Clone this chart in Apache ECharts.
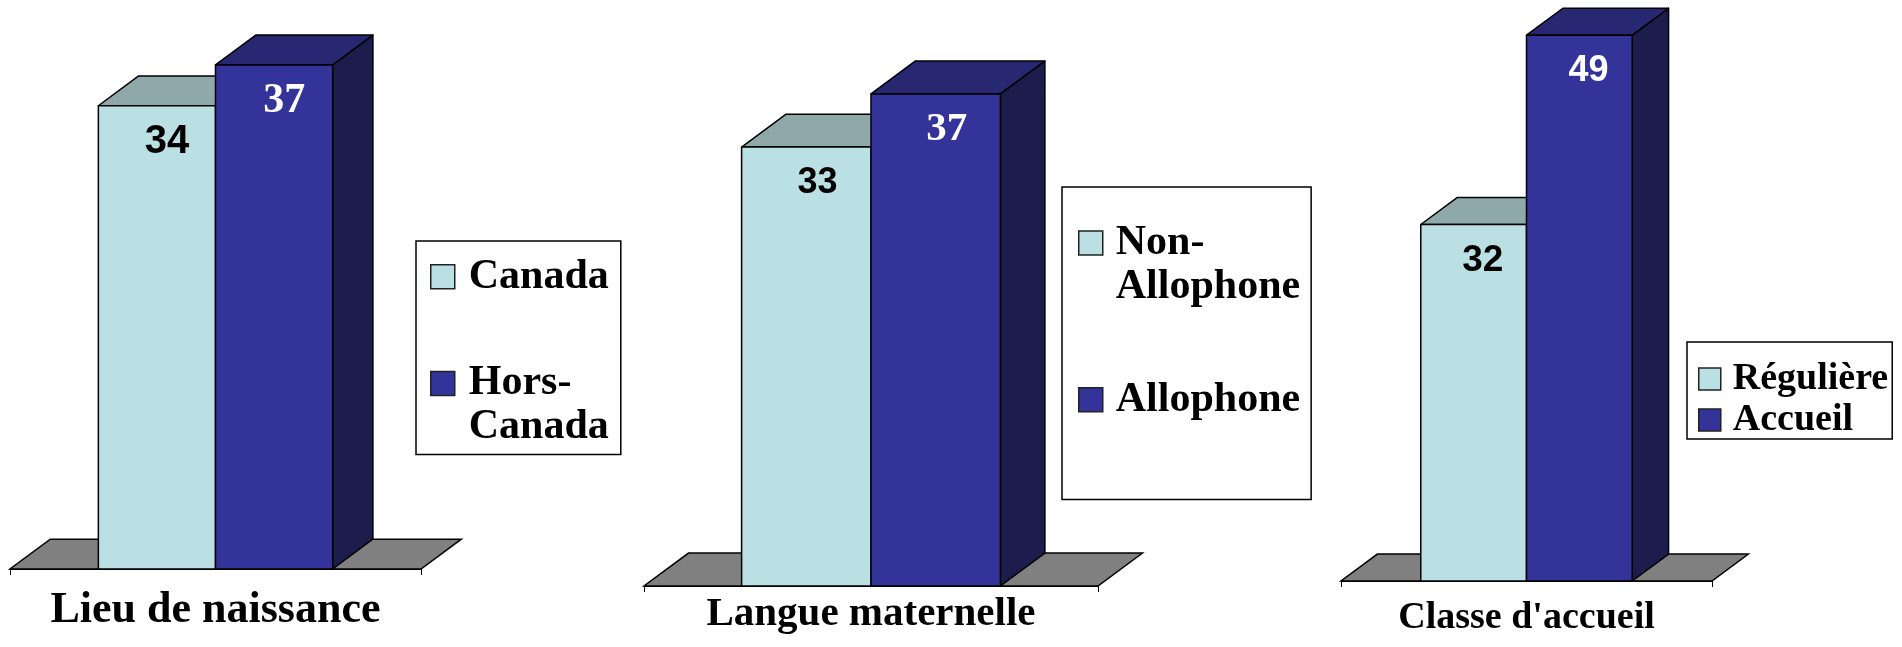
<!DOCTYPE html>
<html><head><meta charset="UTF-8">
<title>Lieu de naissance / Langue maternelle / Classe d'accueil</title>
<style>*{margin:0;padding:0}html,body{background:#fff}#chart{width:1902px;height:647px}</style>
</head>
<body>
<div id="chart"></div>
<script src="https://cdn.jsdelivr.net/npm/echarts@6/dist/echarts.min.js"></script>
<script>
// donnees (une categorie par panneau)
const categories = ['Lieu de naissance', 'Langue maternelle', "Classe d'accueil"];
const seriesA = ['Canada', 'Non-Allophone', 'Régulière'];
const seriesB = ['Hors-Canada', 'Allophone', 'Accueil'];
const valuesA = [34, 33, 32];
const valuesB = [37, 37, 49];
const axisMax = [40, 40, 50];

const SERIF = "'Liberation Serif', 'Times New Roman', serif";
const SANS = "'Liberation Sans', Arial, sans-serif";
const colA = { front: '#BAE0E3', top: '#8FA9AB', side: '#7E9C9F' };
const colB = { front: '#333399', top: '#272772', side: '#1C1C4D' };

// mise en page de chaque panneau
const grids = [
    { left: 10, top: 24, width: 411, height: 545 },
    { left: 644, top: 54, width: 454, height: 532 },
    { left: 1341, top: 24, width: 371, height: 557 }
];
const catFont = [44, 41, 38];
const catMargin = [20, 8, 18];
const labA = [{ f: SANS, s: 40 }, { f: SANS, s: 36 }, { f: SANS, s: 37 }];
const labB = [{ f: SERIF, s: 42 }, { f: SERIF, s: 41 }, { f: SANS, s: 36 }];

const chart = echarts.init(document.getElementById('chart'));

function depth(band) {
    const dx = band * 0.098;
    return [dx, -dx * 0.74];
}

function floorItem(params, api) {
    const c = params.coordSys;
    const [dx, dy] = depth(api.size([1, 0])[0]);
    const y = c.y + c.height;
    return {
        type: 'polygon',
        shape: { points: [[c.x, y], [c.x + c.width, y], [c.x + c.width + dx, y + dy], [c.x + dx, y + dy]] },
        style: { fill: '#808080', stroke: '#000', lineWidth: 1.5 }
    };
}

function barItem(side, col, lab) {
    return function (params, api) {
        const v = api.value(1);
        const base = api.coord([api.value(0), 0]);
        const top = api.coord([api.value(0), v]);
        const band = api.size([1, 0])[0];
        const w = band * 0.285;
        const [dx, dy] = depth(band);
        const x0 = side === 0 ? base[0] - w : base[0];
        const x1 = x0 + w;
        const yb = base[1], yt = top[1];
        const edge = { stroke: '#000', lineWidth: 1.5, lineJoin: 'round' };
        return {
            type: 'group',
            children: [
                { type: 'polygon', shape: { points: [[x1, yb], [x1 + dx, yb + dy], [x1 + dx, yt + dy], [x1, yt]] },
                  style: Object.assign({ fill: col.side }, edge) },
                { type: 'polygon', shape: { points: [[x0, yt], [x1, yt], [x1 + dx, yt + dy], [x0 + dx, yt + dy]] },
                  style: Object.assign({ fill: col.top }, edge) },
                { type: 'polygon', shape: { points: [[x0, yb], [x1, yb], [x1, yt], [x0, yt]] },
                  style: Object.assign({ fill: col.front }, edge) },
                { type: 'text', style: {
                    text: String(v), x: (x0 + x1) / 2 + dx * 0.25, y: yt + 36,
                    align: 'center', verticalAlign: 'middle',
                    font: 'bold ' + lab.s + 'px ' + lab.f,
                    fill: side === 0 ? '#000' : '#fff' } }
            ]
        };
    };
}

const xAxis = [], yAxis = [], series = [];
categories.forEach((cat, i) => {
    xAxis.push({
        type: 'category', gridIndex: i, data: [cat],
        axisLine: { lineStyle: { color: '#000', width: 1 } },
        axisTick: { show: true, length: 6, lineStyle: { color: '#000', width: 1 } },
        axisLabel: { margin: catMargin[i], fontSize: catFont[i], fontWeight: 'bold', fontFamily: SERIF, color: '#000' },
        splitLine: { show: false }
    });
    yAxis.push({ type: 'value', gridIndex: i, min: 0, max: axisMax[i], show: false });
    series.push({
        type: 'custom', name: 'plancher' + i, xAxisIndex: i, yAxisIndex: i, z: 1, silent: true,
        data: [[0, 0]], renderItem: floorItem
    });
    series.push({
        type: 'custom', name: seriesA[i], xAxisIndex: i, yAxisIndex: i, z: 2,
        itemStyle: { color: colA.front }, encode: { x: 0, y: 1 },
        data: [[0, valuesA[i]]], renderItem: barItem(0, colA, labA[i])
    });
    series.push({
        type: 'custom', name: seriesB[i], xAxisIndex: i, yAxisIndex: i, z: 3,
        itemStyle: { color: colB.front }, encode: { x: 0, y: 1 },
        data: [[0, valuesB[i]]], renderItem: barItem(1, colB, labB[i])
    });
});

// icone carree calee sur la premiere ligne du texte (legende a deux lignes)
function squareIcon(two, s, h) {
    const y0 = two ? 0 : (h - s) / 2;
    return 'path://M0,0L0,0 M0,' + y0 + 'L' + s + ',' + y0 + 'L' + s + ',' + (y0 + s) +
        'L0,' + (y0 + s) + 'Z M0,' + h + 'L0,' + h;
}

function legendBox(i, pos, opts) {
    const two = n => n.indexOf('-') > 0;
    return Object.assign({
        orient: 'vertical', left: pos[0], top: pos[1], icon: 'rect', selectedMode: false,
        backgroundColor: '#fff', borderColor: '#000', borderWidth: 1.5, borderRadius: 0,
        itemStyle: { borderColor: '#222', borderWidth: 1.5 },
        formatter: n => n.replace('-', '-\n'),
        data: [seriesA[i], seriesB[i]].map(n => opts.path
            ? { name: n, icon: squareIcon(two(n), opts.iw, opts.ih) }
            : { name: n }),
        itemWidth: opts.iw, itemHeight: opts.ih,
        textStyle: { fontFamily: SERIF, fontWeight: 'bold', fontSize: opts.fs, lineHeight: opts.lh,
                     color: '#000', padding: [0, 0, 0, opts.tp] }
    }, opts.extra);
}

chart.setOption({
    animation: false,
    grid: grids,
    xAxis: xAxis,
    yAxis: yAxis,
    legend: [
        legendBox(0, [416, 241], { fs: 42, lh: 44, tp: 9, iw: 24, ih: 68, path: true,
            extra: { itemGap: 50, padding: [1, 12, 5, 14] } }),
        legendBox(1, [1062, 187], { fs: 42, lh: 44, tp: 8, iw: 24, ih: 68, path: true,
            extra: { itemGap: 56, padding: [34, 11, 65, 16] } }),
        legendBox(2, [1687, 342], { fs: 38, lh: 38, tp: 7, iw: 22, ih: 22, path: false,
            extra: { itemGap: 3, padding: [18, 4, 0, 11] } })
    ],
    series: series
});
</script>
</body></html>
